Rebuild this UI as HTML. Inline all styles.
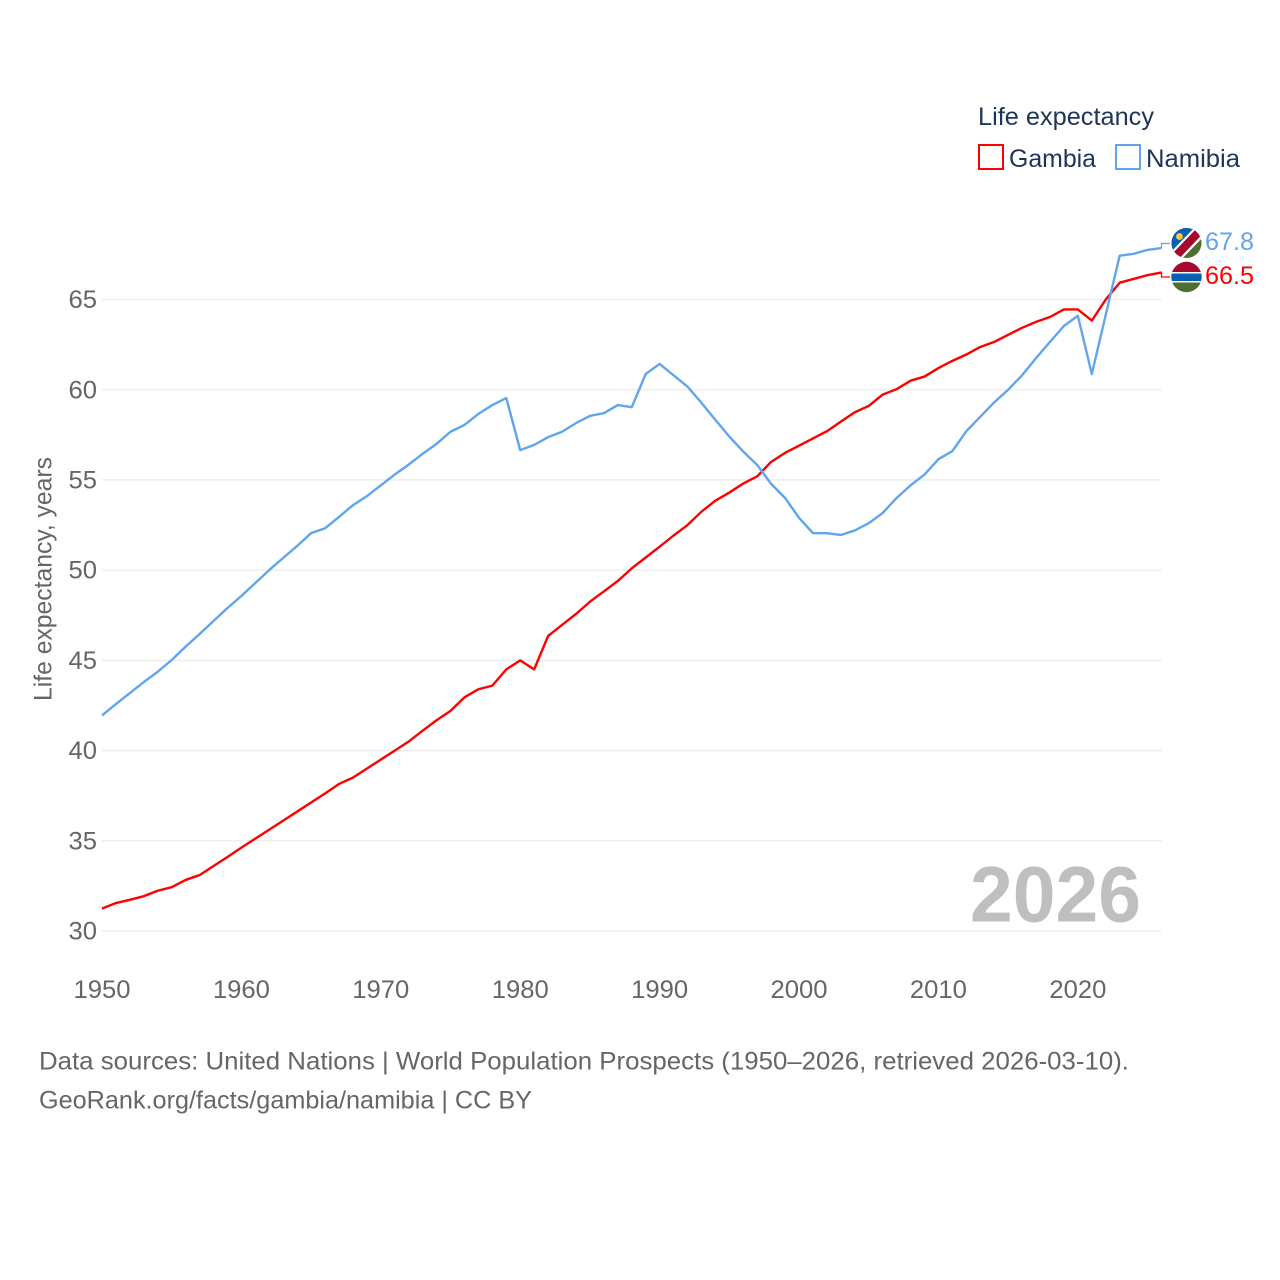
<!DOCTYPE html>
<html lang="en">
<head>
<meta charset="utf-8">
<title>Life expectancy: Gambia and Namibia</title>
<style>
html,body{margin:0;padding:0;background:#fff;width:1280px;height:1280px;overflow:hidden}
svg{display:block}
text{font-family:"Liberation Sans",sans-serif}
</style>
</head>
<body>
<svg id="chart" xmlns="http://www.w3.org/2000/svg" width="1280" height="1280" viewBox="0 0 1280 1280">
  <rect width="1280" height="1280" fill="#fff"/>
  <g id="grid"></g>
  <g id="yticks"></g>
  <g id="xticks"></g>
  <text transform="translate(51.5,701) rotate(-90)" font-size="25" fill="#666" textLength="244" lengthAdjust="spacingAndGlyphs">Life expectancy, years</text>
  <text x="970" y="921.5" font-size="79" font-weight="bold" fill="#bfbfbf" textLength="171" lengthAdjust="spacingAndGlyphs">2026</text>
  <g id="series"></g>

  <g>
    <clipPath id="clip-na"><circle cx="1186.5" cy="243" r="15"/></clipPath>
    <g clip-path="url(#clip-na)">
      <rect x="1171" y="227" width="31" height="32" fill="#4d6f30"/>
      <polygon points="1171,227 1198,227 1171,256" fill="#0a5fb4"/>
      <polygon points="1196,226 1205,235 1177,264 1168,255" fill="#fff"/>
      <polygon points="1198,227 1203.5,233 1176,262 1170,256" fill="#a50a2e"/>
      <circle cx="1179.5" cy="236.5" r="3.4" fill="#ffce3a"/>
    </g>
  </g>
  <g>
    <clipPath id="clip-gm"><circle cx="1186.5" cy="277" r="15.2"/></clipPath>
    <g clip-path="url(#clip-gm)">
      <rect x="1171" y="261" width="31" height="11.5" fill="#a50a2e"/>
      <rect x="1171" y="272" width="31" height="10.5" fill="#fff"/>
      <rect x="1171" y="273.5" width="31" height="7.5" fill="#0a5fb4"/>
      <rect x="1171" y="282.5" width="31" height="11" fill="#4d6f30"/>
    </g>
  </g>
  <text x="1205" y="250" font-size="25" fill="#60a5ed" textLength="49" lengthAdjust="spacingAndGlyphs">67.8</text>
  <text x="1205" y="284" font-size="25" fill="#ff0000" textLength="49" lengthAdjust="spacingAndGlyphs">66.5</text>

  <g>
    <text x="978" y="125" font-size="25" fill="#1d3557" textLength="176" lengthAdjust="spacingAndGlyphs">Life expectancy</text>
    <g>
      <rect x="979" y="145" width="24" height="24" fill="#fff" stroke="#ff0000" stroke-width="2"/>
      <text x="1009" y="167" font-size="25" fill="#1d3557" textLength="87" lengthAdjust="spacingAndGlyphs">Gambia</text>
    </g>
    <g>
      <rect x="1116" y="145" width="24" height="24" fill="#fff" stroke="#60a5ed" stroke-width="2"/>
      <text x="1146" y="167" font-size="25" fill="#1d3557" textLength="94" lengthAdjust="spacingAndGlyphs">Namibia</text>
    </g>
  </g>

  <text x="39" y="1069.5" font-size="25" fill="#666" textLength="1090" lengthAdjust="spacingAndGlyphs">Data sources: United Nations | World Population Prospects (1950–2026, retrieved 2026-03-10).</text>
  <text x="39" y="1108.5" font-size="25" fill="#666" textLength="493" lengthAdjust="spacingAndGlyphs">GeoRank.org/facts/gambia/namibia | CC BY</text>
</svg>
<script>
const startYear = 1950;
const yTickValues = [30, 35, 40, 45, 50, 55, 60, 65];
const xTickValues = [1950, 1960, 1970, 1980, 1990, 2000, 2010, 2020];
const gambiaValues = [
  31.24, 31.55, 31.73, 31.93, 32.23, 32.43, 32.83, 33.1, 33.6, 34.1,
  34.62, 35.12, 35.62, 36.12, 36.62, 37.12, 37.62, 38.15, 38.5, 39.0,
  39.5, 40.0, 40.5, 41.1, 41.68, 42.2, 42.95, 43.4, 43.6, 44.5,
  45.0, 44.5, 46.35, 46.96, 47.57, 48.25, 48.82, 49.4, 50.1, 50.7,
  51.3, 51.92, 52.5, 53.24, 53.85, 54.3, 54.8, 55.2, 56.0, 56.5,
  56.9, 57.3, 57.7, 58.23, 58.75, 59.1, 59.73, 60.03, 60.5, 60.73,
  61.2, 61.6, 61.95, 62.37, 62.65, 63.04, 63.43, 63.76, 64.03, 64.45,
  64.45, 63.83, 65.0, 65.93, 66.14, 66.35, 66.5
];
const namibiaValues = [
  41.95, 42.58, 43.19, 43.8, 44.37, 45.02, 45.76, 46.46, 47.18, 47.9,
  48.57, 49.29, 50.01, 50.68, 51.34, 52.05, 52.32, 52.95, 53.6, 54.1,
  54.7, 55.3, 55.85, 56.45, 57.0, 57.67, 58.05, 58.66, 59.15, 59.54,
  56.65, 56.94, 57.37, 57.67, 58.15, 58.55, 58.7, 59.15, 59.03, 60.87,
  61.43, 60.8, 60.17, 59.27, 58.33, 57.4, 56.57, 55.83, 54.78, 54.0,
  52.9, 52.05, 52.05, 51.95, 52.2, 52.6, 53.17, 54.0, 54.7, 55.3,
  56.15, 56.6, 57.7, 58.5, 59.3, 60.0, 60.8, 61.75, 62.65, 63.53,
  64.1, 60.87, 64.15, 67.43, 67.53, 67.75, 67.85
];

const SVG_NS = 'http://www.w3.org/2000/svg';
const plot = { left: 102, right: 1161.5, bottom: 931, top: 299.5 };
const xDomain = [1950, 2026];
const yDomain = [30, 65];

function xScale(year) {
  return plot.left + (year - xDomain[0]) * (plot.right - plot.left) / (xDomain[1] - xDomain[0]);
}
function yScale(value) {
  return plot.bottom - (value - yDomain[0]) * (plot.bottom - plot.top) / (yDomain[1] - yDomain[0]);
}
function make(tag, attrs) {
  const el = document.createElementNS(SVG_NS, tag);
  Object.keys(attrs).forEach(function (k) { el.setAttribute(k, attrs[k]); });
  return el;
}

const gridGroup = document.getElementById('grid');
const yGroup = document.getElementById('yticks');
yTickValues.forEach(function (v) {
  const y = yScale(v);
  const line = make('line', { x1: plot.left, x2: plot.right, y1: y, y2: y, stroke: '#ebebeb', 'stroke-width': 1.3 });
  
  
  gridGroup.appendChild(line);
  const label = make('text', { x: 97, y: y + 8.6, 'text-anchor': 'end', 'font-size': 25, fill: '#666', textLength: 28.5, lengthAdjust: 'spacingAndGlyphs' });
  
  
  label.textContent = String(v);
  yGroup.appendChild(label);
});

const xGroup = document.getElementById('xticks');
xTickValues.forEach(function (yr) {
  const label = make('text', { x: xScale(yr), y: 998, 'text-anchor': 'middle', 'font-size': 25, fill: '#666', textLength: 57, lengthAdjust: 'spacingAndGlyphs' });
  
  
  label.textContent = String(yr);
  xGroup.appendChild(label);
});

function linePoints(values) {
  return values.map(function (v, i) {
    return xScale(startYear + i).toFixed(2) + ',' + yScale(v).toFixed(2);
  }).join(' ');
}
function connectorPoints(values, labelY) {
  const lastX = xScale(startYear + values.length - 1);
  const lastY = yScale(values[values.length - 1]);
  return lastX.toFixed(2) + ',' + lastY.toFixed(2) + ' ' + lastX.toFixed(2) + ',' + labelY + ' 1170,' + labelY;
}

const seriesGroup = document.getElementById('series');

const gambiaLine = make('polyline', { points: linePoints(gambiaValues), fill: 'none', stroke: '#ff0000', 'stroke-width': 2.4, 'stroke-linejoin': 'round' });


seriesGroup.appendChild(gambiaLine);

const namibiaLine = make('polyline', { points: linePoints(namibiaValues), fill: 'none', stroke: '#60a5ed', 'stroke-width': 2.4, 'stroke-linejoin': 'round' });


seriesGroup.appendChild(namibiaLine);

const gambiaConnector = make('polyline', { points: connectorPoints(gambiaValues, 277), fill: 'none', stroke: '#ff0000', 'stroke-width': 1.3 });


seriesGroup.appendChild(gambiaConnector);

const namibiaConnector = make('polyline', { points: connectorPoints(namibiaValues, 243.5), fill: 'none', stroke: '#60a5ed', 'stroke-width': 1.3 });


seriesGroup.appendChild(namibiaConnector);
</script>
</body>
</html>
